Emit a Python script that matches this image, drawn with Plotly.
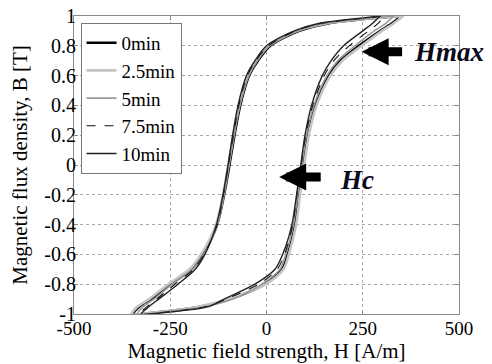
import plotly.graph_objects as go

# B levels for ascending branch (bottom tip -> top tip) and descending branch
B_ASC = [-1, -0.99, -0.95, -0.9, -0.8, -0.7, -0.6, -0.4, -0.2, 0, 0.2, 0.4, 0.6, 0.7, 0.8, 0.9, 0.95, 1]
B_DESC = [1, 0.99, 0.95, 0.9, 0.8, 0.7, 0.6, 0.4, 0.2, 0, -0.2, -0.4, -0.6, -0.7, -0.8, -0.9, -0.95, -1]

series_names = ["0min", "2.5min", "5min", "7.5min", "10min"]

H_asc_0 = [-345, -290, -170, -95, -5, 40, 55, 74, 84, 95, 107, 127, 162, 192, 240, 295, 325, 350]
H_desc_0 = [350, 300, 160, 85, 10, -22, -45, -68, -83, -96, -110, -128, -165, -195, -250, -300, -330, -345]

H_asc_25 = [-350, -295, -175, -100, -2, 44, 58, 77, 87, 98, 110, 130, 166, 197, 247, 300, 330, 355]
H_desc_25 = [355, 300, 155, 80, 5, -26, -48, -71, -86, -99, -113, -131, -170, -200, -255, -305, -335, -350]

H_asc_5 = [-335, -280, -160, -88, -12, 35, 50, 70, 81, 92, 104, 123, 157, 185, 230, 280, 310, 330]
H_desc_5 = [330, 285, 150, 80, 8, -24, -46, -69, -84, -97, -110, -127, -163, -192, -245, -292, -320, -335]

H_asc_75 = [-330, -270, -155, -105, -20, 28, 47, 68, 79, 90, 102, 120, 150, 175, 215, 265, 290, 305]
H_desc_75 = [305, 270, 140, 75, 5, -28, -50, -72, -86, -99, -112, -128, -162, -190, -238, -285, -310, -330]

H_asc_10 = [-325, -265, -150, -110, -30, 22, 42, 66, 78, 89, 100, 117, 145, 168, 200, 250, 275, 295]
H_desc_10 = [295, 260, 135, 72, 0, -30, -52, -74, -88, -100, -113, -130, -160, -185, -230, -280, -305, -325]

x_ticks = [-500, -250, 0, 250, 500]
y_ticks = [-1, -0.8, -0.6, -0.4, -0.2, 0, 0.2, 0.4, 0.6, 0.8, 1]
y_tick_text = ["-1", "-0.8", "-0.6", "-0.4", "-0.2", "0", "0.2", "0.4", "0.6", "0.8", "1"]

styles = [
    dict(color="#000000", width=2.4, dash="solid"),
    dict(color="#c4c4c4", width=2.6, dash="solid"),
    dict(color="#9a9a9a", width=1.6, dash="solid"),
    dict(color="#111111", width=1.1, dash="dash"),
    dict(color="#222222", width=1.4, dash="solid"),
]
data = [
    (H_asc_0, H_desc_0),
    (H_asc_25, H_desc_25),
    (H_asc_5, H_desc_5),
    (H_asc_75, H_desc_75),
    (H_asc_10, H_desc_10),
]

FONT = "Liberation Serif, Times New Roman, serif"
fig = go.Figure()
for name, (ha, hd), st in zip(series_names, data, styles):
    fig.add_trace(go.Scatter(
        x=ha + hd, y=B_ASC + B_DESC, mode="lines", name=name,
        line=dict(color=st["color"], width=st["width"], dash=st["dash"], shape="spline", smoothing=0.8),
    ))

# page body has an 8px default margin; figure is sized to fit the 492x364 window
fig.update_layout(
    width=484, height=356,
    margin=dict(l=66, r=33, t=8, b=50),
    paper_bgcolor="white", plot_bgcolor="white",
    font=dict(family=FONT, size=16, color="black"),
    showlegend=True,
    legend=dict(
        x=0.017, y=0.977, xanchor="left", yanchor="top",
        bgcolor="white", bordercolor="#777777", borderwidth=1,
        font=dict(family=FONT, size=19, color="black"),
        tracegroupgap=0,
    ),
)
fig.update_xaxes(
    range=[-500, 500], tickvals=x_ticks, ticktext=[str(v) for v in x_ticks],
    automargin=False, ticklabeloverflow="allow",
    showgrid=True, gridcolor="#a8a8a8", griddash="dot", gridwidth=1,
    zeroline=False, showline=True, linecolor="#8a8a8a", linewidth=1, mirror="ticks",
    ticks="inside", ticklen=4, tickcolor="#8a8a8a",
    ticklabelstandoff=-3,
    tickfont=dict(family=FONT, size=19),
    title=dict(text="Magnetic field strength, H [A/m]", font=dict(family=FONT, size=21), standoff=0),
)
fig.update_yaxes(
    range=[-1, 1], tickvals=y_ticks, ticktext=y_tick_text,
    automargin=False, ticklabeloverflow="allow",
    showgrid=True, gridcolor="#a8a8a8", griddash="dot", gridwidth=1,
    zeroline=False, showline=True, linecolor="#8a8a8a", linewidth=1, mirror="ticks",
    ticks="inside", ticklen=4, tickcolor="#8a8a8a",
    ticklabelstandoff=-7,
    tickfont=dict(family=FONT, size=20),
    title=dict(text="Magnetic flux density, B [T]", font=dict(family=FONT, size=21), standoff=23),
)

# arrows
fig.add_annotation(x=247, y=0.76, ax=42, ay=0, xref="x", yref="y", axref="pixel", ayref="pixel",
                   showarrow=True, arrowhead=2, arrowsize=0.6, arrowwidth=9, arrowcolor="black", text="")
fig.add_annotation(x=33, y=-0.08, ax=43, ay=0, xref="x", yref="y", axref="pixel", ayref="pixel",
                   showarrow=True, arrowhead=2, arrowsize=0.6, arrowwidth=9, arrowcolor="black", text="")
fig.add_annotation(x=378, y=0.76, xref="x", yref="y", text="<b><i>Hmax</i></b>", showarrow=False,
                   xanchor="left", yanchor="middle", font=dict(family=FONT, size=27, color="#0a0a1a"))
fig.add_annotation(x=186, y=-0.1, xref="x", yref="y", text="<b><i>Hc</i></b>", showarrow=False,
                   xanchor="left", yanchor="middle", font=dict(family=FONT, size=27, color="#0a0a1a"))

fig.write_html("out.html")
